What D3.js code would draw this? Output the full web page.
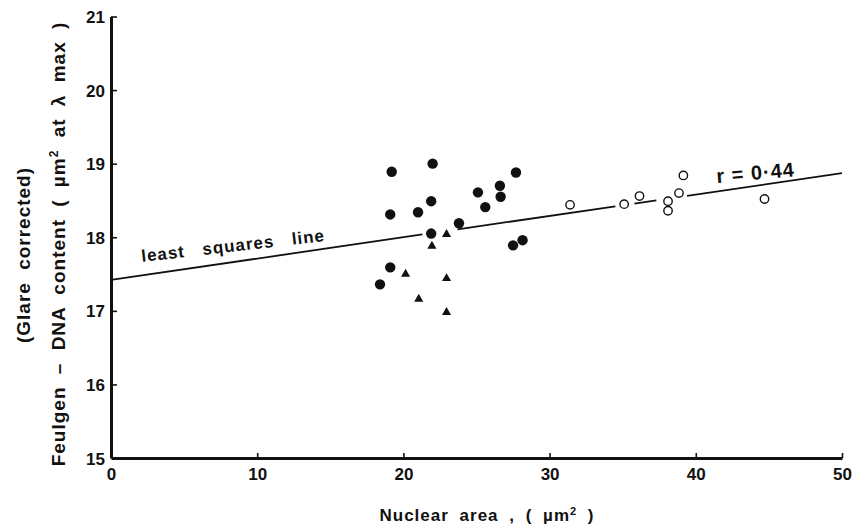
<!DOCTYPE html>
<html>
<head>
<meta charset="utf-8">
<script src="https://cdn.jsdelivr.net/npm/d3@7"></script>
<style>
  html, body { margin: 0; padding: 0; background: #fff; }
  svg { display: block; font-family: "Liberation Sans", Arial, Helvetica, sans-serif; font-weight: bold; }
</style>
</head>
<body>
<svg id="chart" width="857" height="527"></svg>
<script>
// Nuclear area (µm²) and Feulgen-DNA content for three groups of nuclei
const filledX = [19.2, 22.0, 21.9, 19.1, 21.0, 21.9, 23.8, 25.1, 26.6, 27.7, 26.65, 25.6, 27.5, 28.15, 19.1, 18.4];
const filledY = [18.89, 19.0, 18.49, 18.31, 18.34, 18.05, 18.19, 18.61, 18.70, 18.88, 18.55, 18.41, 17.89, 17.96, 17.59, 17.36];

const triX = [22.95, 21.95, 20.15, 22.95, 21.05, 22.95];
const triY = [18.04, 17.88, 17.50, 17.44, 17.16, 16.98];

const openX = [31.4, 35.1, 36.15, 38.1, 38.1, 38.85, 39.15, 44.7];
const openY = [18.44, 18.45, 18.56, 18.49, 18.36, 18.60, 18.84, 18.52];

// Least squares line: intercept and slope, drawn in pieces around the markers
const fitIntercept = 17.42;
const fitSlope = 0.029;
const fitPieces = [[0, 21.3], [23.7, 34.5], [35.8, 37.3], [39.4, 50]];

const xTicks = [0, 10, 20, 30, 40, 50];
const yTicks = [15, 16, 17, 18, 19, 20, 21];

const svg = d3.select("#chart");
const ink = "#111";

const x = d3.scaleLinear().domain([0, 50]).range([111, 842]);
const y = d3.scaleLinear().domain([15, 21]).range([458, 16.5]);

// Axes: heavy lines with short inward ticks
const yAxis = d3.axisLeft(y).tickValues(yTicks).tickFormat(d3.format("d"))
  .tickSizeInner(-6).tickSizeOuter(0).tickPadding(6);
const xAxis = d3.axisBottom(x).tickValues(xTicks).tickFormat(d3.format("d"))
  .tickSizeInner(-5).tickSizeOuter(0).tickPadding(10);

const gx = svg.append("g").attr("transform", `translate(0,${y(15)})`).call(xAxis);
const gy = svg.append("g").attr("transform", `translate(${x(0)},0)`).call(yAxis);

[gx, gy].forEach(g => {
  g.select(".domain").attr("stroke", ink).attr("stroke-width", 3);
  g.selectAll(".tick line").attr("stroke", ink).attr("stroke-width", 1.6);
  g.selectAll(".tick text")
    .attr("fill", ink)
    .style("font-size", "17px")
    .style("font-weight", "bold")
    .style("font-family", "'Liberation Sans', Arial, sans-serif");
});
gx.select(".tick line").remove();
gy.select(".tick line").remove();
gy.selectAll(".tick text").attr("dy", "0.36em");
gx.selectAll(".tick text").attr("dy", "0.72em");

// Fitted line
const fit = v => fitIntercept + fitSlope * v;
svg.append("g").selectAll("line").data(fitPieces).join("line")
  .attr("x1", d => x(d[0])).attr("y1", d => y(fit(d[0])))
  .attr("x2", d => x(d[1])).attr("y2", d => y(fit(d[1])))
  .attr("stroke", ink).attr("stroke-width", 1.8);

// Filled circles
svg.append("g").selectAll("circle").data(filledX.map((v, i) => [v, filledY[i]])).join("circle")
  .attr("cx", d => x(d[0])).attr("cy", d => y(d[1])).attr("r", 5.2)
  .attr("fill", ink);

// Triangles
const tri = d3.symbol().type(d3.symbolTriangle).size(36);
svg.append("g").selectAll("path").data(triX.map((v, i) => [v, triY[i]])).join("path")
  .attr("d", tri)
  .attr("transform", d => `translate(${x(d[0])},${y(d[1])})`)
  .attr("fill", ink);

// Open circles
svg.append("g").selectAll("circle").data(openX.map((v, i) => [v, openY[i]])).join("circle")
  .attr("cx", d => x(d[0])).attr("cy", d => y(d[1])).attr("r", 4.2)
  .attr("fill", "#fff").attr("stroke", ink).attr("stroke-width", 1.4);

// Annotations along the fitted line
svg.append("text")
  .attr("transform", `translate(142,262) rotate(-6.5)`)
  .attr("fill", ink).style("font-size", "17px")
  .style("letter-spacing", "1px").style("word-spacing", "12px")
  .text("least squares line");

svg.append("text")
  .attr("transform", `translate(717,183) rotate(-5)`)
  .attr("fill", ink).style("font-size", "20px")
  .style("letter-spacing", "1px")
  .text("r = 0·44");

// Axis titles
svg.append("text")
  .attr("x", 487).attr("y", 521).attr("text-anchor", "middle")
  .attr("fill", ink).style("font-size", "17px")
  .style("letter-spacing", "1px").style("word-spacing", "5px")
  .html("Nuclear area , ( µm<tspan dy='-6' font-size='11px'>2</tspan><tspan dy='6'> )</tspan>");

svg.append("text")
  .attr("transform", "translate(30,255) rotate(-90)").attr("text-anchor", "middle")
  .attr("fill", ink).style("font-size", "19px")
  .style("letter-spacing", "1px").style("word-spacing", "6px")
  .text("(Glare corrected)");

svg.append("text")
  .attr("transform", "translate(65,244) rotate(-90)").attr("text-anchor", "middle")
  .attr("fill", ink).style("font-size", "19px")
  .style("letter-spacing", "1px").style("word-spacing", "6px")
  .html("Feulgen – DNA content ( µm<tspan dy='-7' font-size='12px'>2</tspan><tspan dy='7'> at λ max )</tspan>");
</script>
</body>
</html>
